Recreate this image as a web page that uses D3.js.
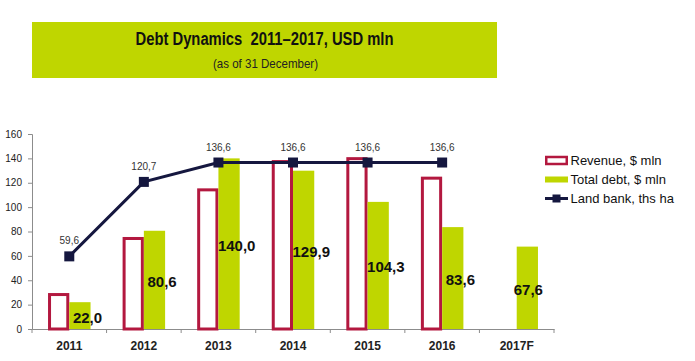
<!DOCTYPE html>
<html><head><meta charset="utf-8">
<script src="https://cdn.jsdelivr.net/npm/d3@7"></script>
<style>body{margin:0;background:#fff}svg{display:block}.pre{white-space:pre}</style>
</head><body>
<svg id="c" width="695" height="361"></svg>
<script>
const categories = ["2011","2012","2013","2014","2015","2016","2017F"];
const revenue = [29.5, 75.5, 115.4, 138.6, 141.0, 125.0, null];
const totalDebt = [22.0, 80.6, 140.0, 129.9, 104.3, 83.6, 67.6];
const landBank = [59.6, 120.7, 136.6, 136.6, 136.6, 136.6, null];
const yTicks = [0,20,40,60,80,100,120,140,160];
const legendLabels = ["Revenue, $ mln","Total debt, $ mln","Land bank, ths ha"];

const fmt = v => v.toFixed(1).replace(".", ",");
const svg = d3.select("#c");
const GREEN = "#bfd600", RED = "#b3183f", NAVY = "#15173f";

// Title box
svg.append("rect").attr("x",32).attr("y",22).attr("width",465).attr("height",56).attr("fill",GREEN);
svg.append("text").attr("class","pre").attr("x",264.5).attr("y",45).attr("text-anchor","middle")
  .attr("font-family","Liberation Sans, Arial, sans-serif").attr("font-weight","bold").attr("font-size",17.5)
  .attr("textLength",258).attr("lengthAdjust","spacingAndGlyphs").attr("fill","#111")
  .text("Debt Dynamics  2011\u20132017, USD mln");
svg.append("text").attr("x",265.5).attr("y",68).attr("text-anchor","middle")
  .attr("font-family","Liberation Sans, Arial, sans-serif").attr("font-size",13.5)
  .attr("textLength",105).attr("lengthAdjust","spacingAndGlyphs").attr("fill","#222")
  .text("(as of 31 December)");

const x = d3.scaleBand().domain(categories).range([32,554]).padding(0);
const bw = x.bandwidth();
const x1 = d3.scaleBand().domain(["rev","debt"]).range([bw*0.215, bw*0.785]).padding(0);
const y = d3.scaleLinear().domain([0,160]).range([329,134]);

// Y axis
const yAxis = svg.append("g").attr("transform","translate(32,0)")
  .call(d3.axisLeft(y).tickValues(yTicks).tickSize(4).tickPadding(6).tickFormat(d3.format("d")));
yAxis.selectAll("path,line").attr("stroke","#8c8c8c");
yAxis.selectAll("text").attr("font-family","Liberation Sans, Arial, sans-serif").attr("font-size",10).attr("fill","#222");

// X axis
const xAxis = svg.append("g").attr("transform","translate(0,329)")
  .call(d3.axisBottom(x).tickSize(0).tickPadding(12));
xAxis.select("path").attr("stroke","#8c8c8c");
xAxis.selectAll("text").attr("font-family","Liberation Sans, Arial, sans-serif").attr("font-size",12).attr("font-weight","bold").attr("fill","#222");
// boundary ticks
const bounds = categories.map(c => x(c)).concat([x(categories[categories.length-1]) + bw]);
svg.append("g").selectAll("line").data(bounds).join("line")
  .attr("x1",d=>d).attr("x2",d=>d).attr("y1",329).attr("y2",333).attr("stroke","#8c8c8c");

// Revenue bars (outlined)
const sw = 3;
svg.append("g").selectAll("rect").data(categories.map((c,i)=>({c,v:revenue[i]})).filter(d=>d.v!=null))
  .join("rect")
  .attr("x",d=>x(d.c)+x1("rev")+sw/2).attr("width",x1.bandwidth()-sw)
  .attr("y",d=>y(d.v)+sw/2).attr("height",d=>y(0)-y(d.v)-sw/2)
  .attr("fill","#fff").attr("stroke",RED).attr("stroke-width",sw);

// Debt bars
const debtData = categories.map((c,i)=>({c,v:totalDebt[i],hasRev:revenue[i]!=null}));
svg.append("g").selectAll("rect").data(debtData).join("rect")
  .attr("x",d=>x(d.c)+x1("debt")).attr("width",x1.bandwidth())
  .attr("y",d=>y(d.v)).attr("height",d=>y(0)-y(d.v)).attr("fill",GREEN);

// Debt labels
svg.append("g").selectAll("text").data(debtData).join("text")
  .attr("x",d=> d.hasRev ? x(d.c)+x1("debt")+x1.bandwidth()-3 : x(d.c)+x1("debt")+x1.bandwidth()/2+1)
  .attr("y",d=>(y(d.v)+y(0))/2+7)
  .attr("text-anchor","middle").attr("font-family","Liberation Sans, Arial, sans-serif")
  .attr("font-size",15).attr("font-weight","bold").attr("fill","#111")
  .text(d=>fmt(d.v));

// Land bank line
const lbData = categories.map((c,i)=>({c,v:landBank[i]})).filter(d=>d.v!=null);
const line = d3.line().x(d=>x(d.c)+bw/2).y(d=>y(d.v));
svg.append("path").datum(lbData).attr("d",line).attr("fill","none").attr("stroke",NAVY).attr("stroke-width",3);
svg.append("g").selectAll("rect").data(lbData).join("rect")
  .attr("x",d=>x(d.c)+bw/2-5).attr("y",d=>y(d.v)-5).attr("width",10).attr("height",10).attr("fill",NAVY);
svg.append("g").selectAll("text").data(lbData).join("text")
  .attr("x",d=>x(d.c)+bw/2).attr("y",d=>y(d.v)-12)
  .attr("text-anchor","middle").attr("font-family","Liberation Sans, Arial, sans-serif")
  .attr("font-size",10).attr("fill","#333").text(d=>fmt(d.v));

// Legend
const lg = svg.append("g").attr("transform","translate(545,0)");
const rowsY = [160.5, 179.5, 198.5];
lg.append("rect").attr("x",1.25).attr("y",rowsY[0]-3.5).attr("width",20.5).attr("height",7)
  .attr("fill","#fff").attr("stroke",RED).attr("stroke-width",2.5);
lg.append("rect").attr("x",0).attr("y",rowsY[1]-3).attr("width",23).attr("height",6).attr("fill",GREEN);
lg.append("line").attr("x1",0).attr("x2",23).attr("y1",rowsY[2]).attr("y2",rowsY[2]).attr("stroke",NAVY).attr("stroke-width",3);
lg.append("rect").attr("x",7.5).attr("y",rowsY[2]-4).attr("width",8).attr("height",8).attr("fill",NAVY);
lg.selectAll("text").data(legendLabels).join("text")
  .attr("x",25.5).attr("y",(d,i)=>rowsY[i]+4.5)
  .attr("font-family","Liberation Sans, Arial, sans-serif").attr("font-size",13).attr("fill","#111")
  .text(d=>d);
</script>
</body></html>
